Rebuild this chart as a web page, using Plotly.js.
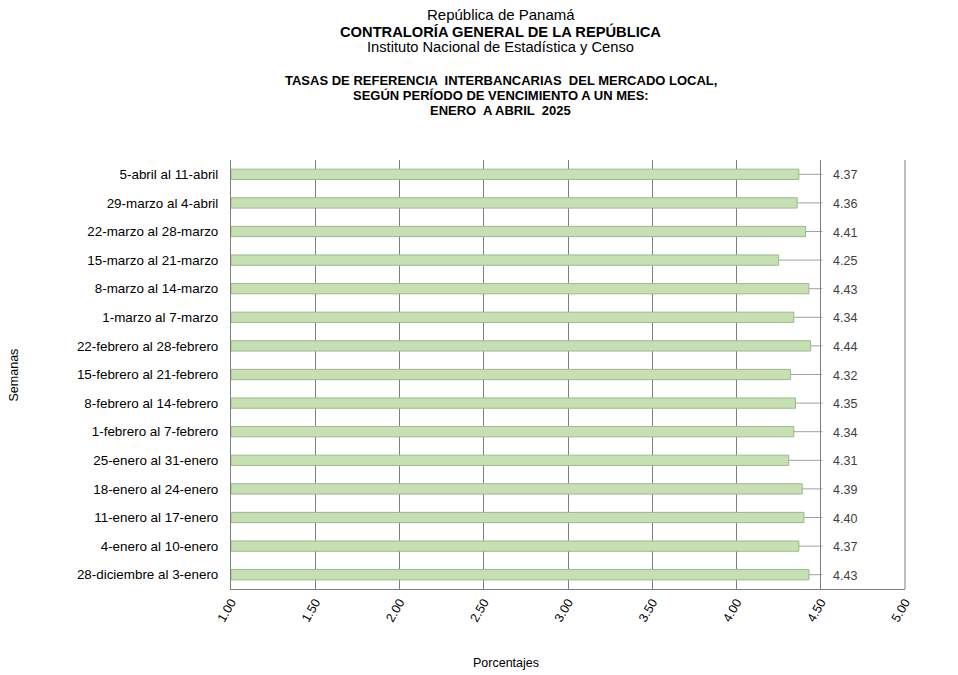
<!DOCTYPE html>
<html>
<head>
<meta charset="utf-8">
<script src="https://cdn.plot.ly/plotly-3.0.1.min.js"></script>
<style>body{margin:0;background:#fff}#chart{width:958px;height:675px}</style>
</head>
<body>
<div id="chart"></div>
<script>
const weeks = [
  "28-diciembre al 3-enero",
  "4-enero al 10-enero",
  "11-enero al 17-enero",
  "18-enero al 24-enero",
  "25-enero al 31-enero",
  "1-febrero al 7-febrero",
  "8-febrero al 14-febrero",
  "15-febrero al 21-febrero",
  "22-febrero al 28-febrero",
  "1-marzo al 7-marzo",
  "8-marzo al 14-marzo",
  "15-marzo al 21-marzo",
  "22-marzo al 28-marzo",
  "29-marzo al 4-abril",
  "5-abril al 11-abril"
];
const rates = [4.43, 4.37, 4.40, 4.39, 4.31, 4.34, 4.35, 4.32, 4.44, 4.34, 4.43, 4.25, 4.41, 4.36, 4.37];
const xTicks = [1.0, 1.5, 2.0, 2.5, 3.0, 3.5, 4.0, 4.5, 5.0];
const xTickLabels = ["1.00", "1.50", "2.00", "2.50", "3.00", "3.50", "4.00", "4.50", "5.00"];

const FONT = "Liberation Sans, Arial, sans-serif";
const leaderEnd = 4.51;
const labelX = 4.56;

const shapes = rates.map((v, i) => ({
  type: 'line', xref: 'x', yref: 'y',
  x0: v, x1: leaderEnd, y0: weeks[i], y1: weeks[i],
  line: {color: '#a0a0a0', width: 1}, layer: 'below'
}));

const annotations = rates.map((v, i) => ({
  xref: 'x', yref: 'y', x: labelX, y: weeks[i], yshift: -1,
  text: v.toFixed(2), showarrow: false, xanchor: 'left', yanchor: 'middle',
  font: {family: FONT, size: 12.5, color: '#404040'}
}));

annotations.push(
  {xref: 'paper', yref: 'paper', x: 0.4, y: 1, yshift: 146, text: 'República de Panamá', showarrow: false, xanchor: 'center', yanchor: 'middle', font: {family: FONT, size: 15, color: '#000'}},
  {xref: 'paper', yref: 'paper', x: 0.4, y: 1, yshift: 129, text: '<b>CONTRALORÍA GENERAL DE LA REPÚBLICA</b>', showarrow: false, xanchor: 'center', yanchor: 'middle', font: {family: FONT, size: 14.7, color: '#000'}},
  {xref: 'paper', yref: 'paper', x: 0.4, y: 1, yshift: 113, text: 'Instituto Nacional de Estadística y Censo', showarrow: false, xanchor: 'center', yanchor: 'middle', font: {family: FONT, size: 14.7, color: '#000'}},
  {xref: 'paper', yref: 'paper', x: 0.4, y: 1, yshift: 80, text: '<b>TASAS DE REFERENCIA  INTERBANCARIAS  DEL MERCADO LOCAL,</b>', showarrow: false, xanchor: 'center', yanchor: 'middle', font: {family: FONT, size: 13, color: '#000'}},
  {xref: 'paper', yref: 'paper', x: 0.4, y: 1, yshift: 65, text: '<b>SEGÚN PERÍODO DE VENCIMIENTO A UN MES:</b>', showarrow: false, xanchor: 'center', yanchor: 'middle', font: {family: FONT, size: 13, color: '#000'}},
  {xref: 'paper', yref: 'paper', x: 0.4, y: 1, yshift: 50, text: '<b>ENERO  A ABRIL  2025</b>', showarrow: false, xanchor: 'center', yanchor: 'middle', font: {family: FONT, size: 13, color: '#000'}},
  {xref: 'paper', yref: 'paper', x: -0.322, y: 0.5, text: 'Semanas', textangle: -90, showarrow: false, xanchor: 'center', yanchor: 'middle', font: {family: FONT, size: 12.5, color: '#000'}},
  {xref: 'paper', yref: 'paper', x: 0.408, y: 0, yshift: -74, text: 'Porcentajes', showarrow: false, xanchor: 'center', yanchor: 'middle', font: {family: FONT, size: 12.5, color: '#000'}}
);

const trace = {
  type: 'bar', orientation: 'h',
  x: rates.map(v => v - 1.0), y: weeks, base: 1.0,
  width: 0.36,
  marker: {color: '#c6e0b4', line: {color: '#9cb98c', width: 1}},
  hoverinfo: 'y'
};

const layout = {
  width: 958, height: 675,
  margin: {l: 231, r: 53, t: 160, b: 86},
  paper_bgcolor: '#fff', plot_bgcolor: '#fff',
  showlegend: false,
  font: {family: FONT, size: 12, color: '#000'},
  xaxis: {
    range: [1.0, 5.0], tickvals: xTicks, ticktext: xTickLabels, tickangle: -60,
    showgrid: true, gridcolor: '#7f7f7f', gridwidth: 1,
    zeroline: false, showline: true, linecolor: '#7f7f7f', linewidth: 1,
    mirror: false, ticks: '', tickfont: {family: FONT, size: 12.5, color: '#000'},
    fixedrange: true
  },
  yaxis: {
    type: 'category', categoryorder: 'array', categoryarray: weeks,
    range: [-0.5, 14.5],
    showgrid: false, zeroline: false, showline: true, linecolor: '#7f7f7f', linewidth: 1,
    ticks: 'outside', ticklen: 9, tickcolor: 'rgba(0,0,0,0)',
    tickfont: {family: FONT, size: 13.4, color: '#000'},
    fixedrange: true
  },
  shapes: shapes.concat([
    {type: 'line', xref: 'paper', yref: 'paper', x0: 1, x1: 1, y0: 0, y1: 1, line: {color: '#7f7f7f', width: 1}}
  ]),
  annotations: annotations
};

Plotly.newPlot('chart', [trace], layout, {displayModeBar: false, staticPlot: true});
</script>
</body>
</html>
